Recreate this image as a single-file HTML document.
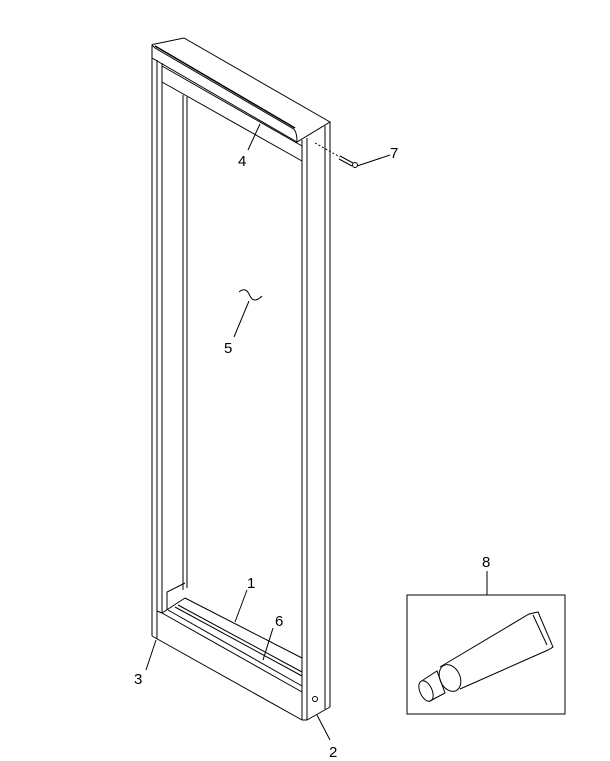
<!DOCTYPE html>
<html><head><style>body{margin:0;background:#fff}svg{display:block}text{font-family:"Liberation Sans",sans-serif;font-size:15px;fill:#000}</style></head><body>
<svg width="610" height="761" viewBox="0 0 610 761" fill="none" stroke="#000" stroke-width="1">
<path d="M152,45 Q152,44 155,44 L184,38 L330,122 L297,142 Q297,130 292,128 L155,48 Z" />
<path d="M152,45 L152,58 L297,142" />
<path d="M155,46 L295,128" stroke-width="1.5"/>
<line x1="152" y1="58" x2="152" y2="636"/>
<line x1="157" y1="60" x2="157" y2="639"/>
<line x1="162" y1="63" x2="162" y2="613"/>
<line x1="183" y1="95" x2="183" y2="590"/>
<line x1="187" y1="97" x2="187" y2="588"/>
<line x1="162" y1="66" x2="302" y2="146"/>
<line x1="162" y1="82" x2="302" y2="161"/>
<line x1="302" y1="140" x2="302" y2="720"/>
<line x1="307" y1="138" x2="307" y2="720"/>
<line x1="325" y1="126" x2="325" y2="709"/>
<line x1="330" y1="122" x2="330" y2="707"/>
<line x1="307" y1="720" x2="330" y2="707"/>
<line x1="302" y1="720" x2="307" y2="720"/>
<circle cx="315" cy="699" r="2.5"/>
<line x1="152" y1="636" x2="302" y2="720"/>
<line x1="162" y1="613" x2="302" y2="692"/>
<line x1="157" y1="611" x2="162" y2="613"/>
<line x1="162" y1="613" x2="185" y2="598"/>
<line x1="185" y1="598" x2="302" y2="658"/>
<line x1="175" y1="607" x2="302" y2="676"/>
<line x1="178" y1="605" x2="302" y2="672"/>
<line x1="168" y1="610" x2="302" y2="686"/>
<path d="M167,610 L167,592 L185,583"/>
<rect x="407" y="595" width="158" height="119"/>
<line x1="487" y1="571" x2="487" y2="595"/>
<path d="M440,667 L529,614 L538,612 L553,647 L548,650 L460,689"/>
<path d="M533,615 L547,645"/>
<ellipse cx="450" cy="678" rx="10" ry="14" transform="rotate(-25 450 678)"/>
<path d="M423,680 L437,671 L445,693 L430,701"/>
<ellipse cx="426" cy="691" rx="6" ry="11" transform="rotate(-25 426 691)"/>
<line x1="315" y1="143" x2="340" y2="157" stroke-dasharray="2,2"/>
<path d="M340,156 L353,163 M339,159 L352,166"/>
<circle cx="355" cy="165" r="2.5"/>
<line x1="248" y1="150" x2="260" y2="124"/>
<line x1="357" y1="166" x2="390" y2="155"/>
<line x1="234" y1="337" x2="249" y2="301"/>
<path d="M239,292 Q246,286 250,296 Q254,304 262,296"/>
<line x1="247" y1="590" x2="235" y2="622"/>
<line x1="273" y1="628" x2="263" y2="660"/>
<line x1="146" y1="670" x2="156" y2="640"/>
<line x1="330" y1="740" x2="317" y2="715"/>
<g stroke="none">
<text x="238" y="166">4</text>
<text x="390" y="158">7</text>
<text x="224" y="353">5</text>
<text x="247" y="588">1</text>
<text x="275" y="626">6</text>
<text x="134" y="684">3</text>
<text x="329" y="757">2</text>
<text x="482" y="567">8</text>
</g>
</svg>
</body></html>
